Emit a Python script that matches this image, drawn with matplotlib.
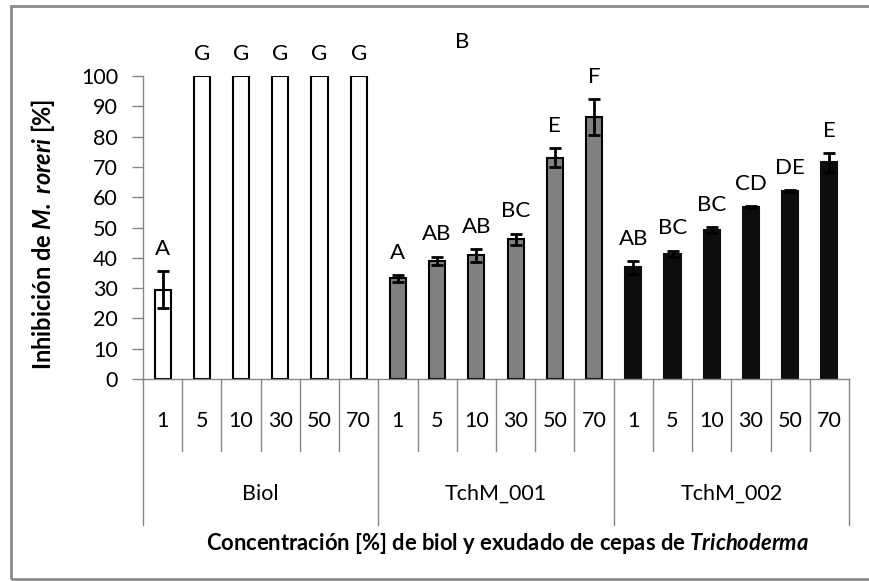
import matplotlib
matplotlib.use("Agg")
import matplotlib.pyplot as plt
from matplotlib.patches import Rectangle
from matplotlib.lines import Line2D
import matplotlib.transforms as mtransforms

plt.rcParams['font.family'] = ['Lato', 'DejaVu Sans']
plt.rcParams['mathtext.fontset'] = 'custom'
plt.rcParams['mathtext.rm'] = 'Lato'
plt.rcParams['mathtext.it'] = 'Lato:italic'
plt.rcParams['mathtext.bf'] = 'Lato:bold'
plt.rcParams['mathtext.bfit'] = 'Lato:italic:bold'

groups = ["Biol", "TchM_001", "TchM_002"]
concentrations = ["1", "5", "10", "30", "50", "70"]
biol_values = [29.5, 100, 100, 100, 100, 100]
biol_errors = [6.0, 0, 0, 0, 0, 0]
biol_letters = ["A", "G", "G", "G", "G", "G"]
tchm001_values = [33.2, 39.0, 40.8, 46.1, 73.1, 86.4]
tchm001_errors = [1.2, 1.4, 2.2, 1.9, 3.2, 6.0]
tchm001_letters = ["A", "AB", "AB", "BC", "E", "F"]
tchm002_values = [36.8, 41.4, 49.2, 56.9, 62.0, 71.5]
tchm002_errors = [2.1, 1.0, 1.0, 0.3, 0.4, 3.2]
tchm002_letters = ["AB", "BC", "BC", "CD", "DE", "E"]

series = [
    (biol_values, biol_errors, biol_letters, "white", "black"),
    (tchm001_values, tchm001_errors, tchm001_letters, "#808080", "black"),
    (tchm002_values, tchm002_errors, tchm002_letters, "#0d0d0d", "#0d0d0d"),
]

W, H = 869, 581
fig = plt.figure(figsize=(W / 100, H / 100), dpi=100)
ax = fig.add_axes([143 / W, 1 - 379 / H, (849 - 143) / W, (379 - 76) / H])

gray = "#868686"
n = len(concentrations)
for g, (vals, errs, letters, fc, ec) in enumerate(series):
    xs = [g * n + i for i in range(n)]
    ax.bar(xs, vals, width=0.41, color=fc, edgecolor=ec, linewidth=1.5, zorder=2)
    for x, v, e, lab in zip(xs, vals, errs, letters):
        if e > 0:
            ax.errorbar(x, v, yerr=e, fmt='none', ecolor='black', elinewidth=2,
                        capsize=4.5, capthick=2, zorder=3)
        ax.text(x, v + e + 4.0, lab, ha='center', va='bottom', fontsize=16,
                color='black', clip_on=False)

ax.set_xlim(-0.5, len(groups) * n - 0.5)
ax.set_ylim(0, 100)
ax.set_yticks(range(0, 101, 10))
ax.tick_params(axis='y', labelsize=15.5, length=8, width=1, color=gray, pad=10)
ax.set_xticks([])
for s in ['top', 'right']:
    ax.spines[s].set_visible(False)
for s in ['left', 'bottom']:
    ax.spines[s].set_color(gray)
    ax.spines[s].set_linewidth(1)

# multi-level category axis
trans = mtransforms.blended_transform_factory(ax.transData, fig.transFigure)
y_axis_fig = 1 - 379 / H
y_minor_end = 1 - 451 / H
y_major_end = 1 - 525 / H
for k in range(len(groups) * n + 1):
    xb = k - 0.5
    yend = y_major_end if k % n == 0 else y_minor_end
    fig.add_artist(Line2D([xb, xb], [y_axis_fig, yend], transform=trans,
                          color=gray, lw=1))
for g, gname in enumerate(groups):
    for i, c in enumerate(concentrations):
        fig.text(g * n + i, 1 - 421 / H, c, transform=trans, ha='center',
                 va='center', fontsize=15.5)
    fig.text(g * n + (n - 1) / 2, 1 - 494 / H, gname, transform=trans,
             ha='center', va='center', fontsize=15.5)

# axis titles
fig.text(508 / W, 1 - 543 / H,
         r"Concentración [%] de biol y exudado de cepas de $\mathbfit{Trichoderma}$",
         ha='center', va='center', fontsize=15.8, fontweight='bold')
fig.text(43 / W, 1 - 234 / H,
         r"Inhibición de $\mathbfit{M.}$ $\mathbfit{roreri}$ [%]",
         ha='center', va='center', rotation=90, fontsize=17, fontweight='bold')

fig.text(462 / W, 1 - 42 / H, "B", ha='center', va='center', fontsize=16)

# outer border
fig.add_artist(Rectangle((11 / W, 1 - 579 / H), 1.0, (579 - 6) / H,
                         transform=fig.transFigure, fill=False,
                         edgecolor="#8c8c8c", lw=2))

fig.savefig("out.png", dpi=100)
